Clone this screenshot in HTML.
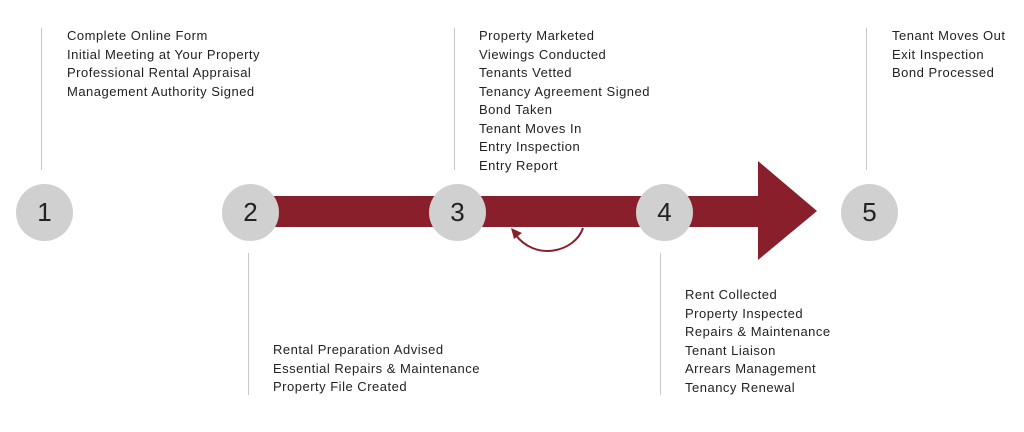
<!DOCTYPE html>
<html><head><style>
body{margin:0;width:1024px;height:432px;background:#fff;position:relative;overflow:hidden;font-family:"Liberation Sans",sans-serif;}
.t{position:absolute;font-size:13px;line-height:18.5px;color:#222;letter-spacing:0.5px;}
.v{position:absolute;width:1px;background:#c8c8c8;}
.c{position:absolute;width:57px;height:57px;border-radius:50%;background:#d0d0d0;color:#222;font-size:26px;line-height:57px;text-align:center;}
</style></head><body>
<svg style="position:absolute;left:0;top:0" width="1024" height="432">
<rect x="250" y="196" width="510" height="31" fill="#8a1f2c"/>
<polygon points="758,161 817,211 758,260" fill="#8a1f2c"/>
<path d="M583,228 C575,252 535,262 515,234" fill="none" stroke="#8a1f2c" stroke-width="2"/>
<polygon points="511,228 522,233 514,239" fill="#8a1f2c"/>
</svg>
<div class="v" style="left:41px;top:28px;height:142px"></div>
<div class="v" style="left:454px;top:28px;height:142px"></div>
<div class="v" style="left:866px;top:28px;height:142px"></div>
<div class="v" style="left:248px;top:253px;height:142px"></div>
<div class="v" style="left:660px;top:253px;height:142px"></div>
<div class="c" style="left:16px;top:184px">1</div>
<div class="c" style="left:222px;top:184px">2</div>
<div class="c" style="left:429px;top:184px">3</div>
<div class="c" style="left:636px;top:184px">4</div>
<div class="c" style="left:841px;top:184px">5</div>
<div class="t" style="left:67px;top:27px">Complete Online Form<br>Initial Meeting at Your Property<br>Professional Rental Appraisal<br>Management Authority Signed</div>
<div class="t" style="left:479px;top:27px">Property Marketed<br>Viewings Conducted<br>Tenants Vetted<br>Tenancy Agreement Signed<br>Bond Taken<br>Tenant Moves In<br>Entry Inspection<br>Entry Report</div>
<div class="t" style="left:892px;top:27px">Tenant Moves Out<br>Exit Inspection<br>Bond Processed</div>
<div class="t" style="left:273px;top:341px">Rental Preparation Advised<br>Essential Repairs &amp; Maintenance<br>Property File Created</div>
<div class="t" style="left:685px;top:286px">Rent Collected<br>Property Inspected<br>Repairs &amp; Maintenance<br>Tenant Liaison<br>Arrears Management<br>Tenancy Renewal</div>
</body></html>
